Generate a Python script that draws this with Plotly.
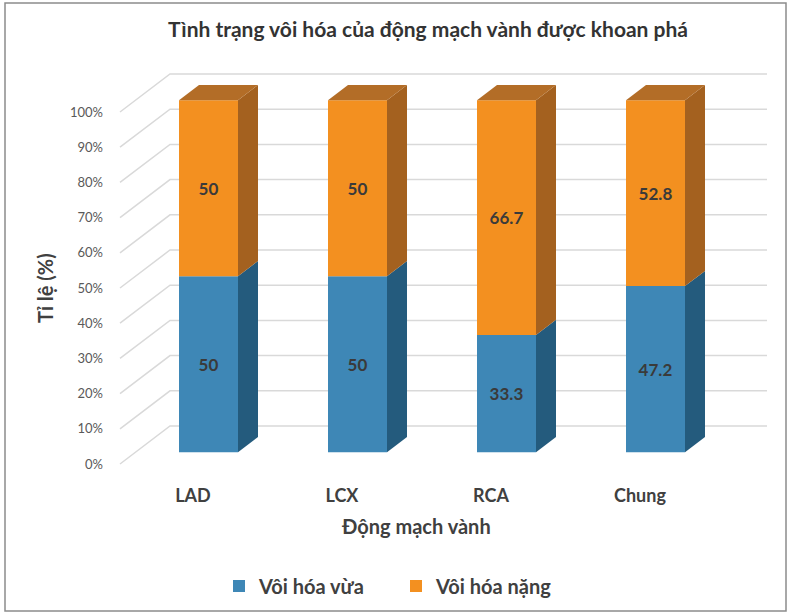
import plotly.graph_objects as go

# ---- data ----
categories = ["LAD", "LCX", "RCA", "Chung"]
voi_hoa_vua = [50, 50, 33.3, 47.2]
voi_hoa_nang = [50, 50, 66.7, 52.8]
series_names = ["Vôi hóa vừa", "Vôi hóa nặng"]
y_ticks = [0, 10, 20, 30, 40, 50, 60, 70, 80, 90, 100]
y_ticklabels = [f"{v}%" for v in y_ticks]

# ---- 3D projection parameters (in data units) ----
PX_X = 149.0          # pixels per category
PX_Y = 3.52           # pixels per percent
DX = 50 / PX_X        # full depth offset x
DY = 38 / PX_Y        # full depth offset y
D_FRONT = 0.31
D_BACK = 0.71
BAR_W = 59 / PX_X
X_WALL_L = (120 - 193) / PX_X
X_WALL_R = (767 - 193) / PX_X

front_colors = ["#3E87B6", "#F39020"]
side_colors = ["#245B7D", "#A4611F"]
top_color = "#B36D27"
grid_color = "#D9D9D9"
font_fam = "Lato"
txt_col = "#404040"

fig = go.Figure()

# gridlines on side wall and back wall (shapes below traces)
shapes = []
for v in y_ticks:
    path = (f"M {X_WALL_L},{v} L {X_WALL_L + DX},{v + DY} "
            f"L {X_WALL_R},{v + DY}")
    shapes.append(dict(type="path", path=path, xref="x", yref="y",
                       line=dict(color=grid_color, width=1.5), layer="below"))

series = [voi_hoa_vua, voi_hoa_nang]
xs_front = [i + D_FRONT * DX for i in range(len(categories))]

# front faces as bars
bottoms = [0.0] * len(categories)
seg_bounds = []
for s, vals in enumerate(series):
    bases = [b + D_FRONT * DY for b in bottoms]
    fig.add_trace(go.Bar(
        x=xs_front, y=vals, base=bases, width=BAR_W,
        name=series_names[s], marker=dict(color=front_colors[s], line=dict(width=0)),
        text=[f"{v:g}" for v in vals], textposition="inside",
        insidetextanchor="middle", textangle=0,
        insidetextfont=dict(family=font_fam, size=17, color="#3A3A3A", weight="bold"),
        hoverinfo="skip",
    ))
    seg_bounds.append([(bottoms[i], bottoms[i] + vals[i]) for i in range(len(vals))])
    bottoms = [bottoms[i] + vals[i] for i in range(len(vals))]

# side faces
ddx = (D_BACK - D_FRONT) * DX
ddy = (D_BACK - D_FRONT) * DY
for s, bounds in enumerate(seg_bounds):
    for i, (b0, b1) in enumerate(bounds):
        xr = xs_front[i] + BAR_W / 2
        y0 = b0 + D_FRONT * DY
        y1 = b1 + D_FRONT * DY
        fig.add_trace(go.Scatter(
            x=[xr, xr + ddx, xr + ddx, xr, xr],
            y=[y0, y0 + ddy, y1 + ddy, y1, y0],
            fill="toself", fillcolor=side_colors[s], mode="lines",
            line=dict(width=0, color=side_colors[s]),
            showlegend=False, hoverinfo="skip"))

# top faces
for i in range(len(categories)):
    xl = xs_front[i] - BAR_W / 2
    xr = xs_front[i] + BAR_W / 2
    yt = bottoms[i] + D_FRONT * DY
    fig.add_trace(go.Scatter(
        x=[xl, xr, xr + ddx, xl + ddx, xl],
        y=[yt, yt, yt + ddy, yt + ddy, yt],
        fill="toself", fillcolor=top_color, mode="lines",
        line=dict(width=0, color=top_color),
        showlegend=False, hoverinfo="skip"))

# frame around the image
shapes.append(dict(type="rect", xref="paper", yref="paper",
                   x0=(5 - 110) / 665, x1=(786 - 110) / 665,
                   y0=(470 - 611) / 410, y1=(470 - 3) / 410,
                   line=dict(color="#8C8C8C", width=1.5), layer="below"))

fig.update_layout(
    width=790, height=615,
    margin=dict(l=110, r=15, t=60, b=145),
    paper_bgcolor="white", plot_bgcolor="white",
    barmode="overlay",
    shapes=shapes,
    font=dict(family=font_fam, color=txt_col),
    title=dict(text="Tình trạng vôi hóa của động mạch vành được khoan phá",
               x=428 / 790, xanchor="center", y=1 - 30 / 615, yanchor="middle",
               yref="container",
               font=dict(family=font_fam, size=21, color="#333333", weight="bold")),
    xaxis=dict(range=[(110 - 193) / PX_X, (775 - 193) / PX_X],
               tickvals=list(range(len(categories))), ticktext=categories,
               showgrid=False, zeroline=False, showline=False, ticks="",
               ticklabelstandoff=13,
               tickfont=dict(family=font_fam, size=18, color=txt_col, weight="bold")),
    yaxis=dict(range=[(464 - 470) / PX_Y, (464 - 60) / PX_Y],
               tickvals=y_ticks, ticktext=y_ticklabels,
               showgrid=False, zeroline=False, showline=False, ticks="",
               ticklabelstandoff=6,
               tickfont=dict(family=font_fam, size=13, color="#595959")),
    legend=dict(orientation="h", xref="container", yref="container",
                x=219 / 790, xanchor="left", y=1 - 586 / 615, yanchor="middle",
                entrywidth=132, entrywidthmode="pixels",
                font=dict(family=font_fam, size=20, color=txt_col, weight="bold")),
    annotations=[
        dict(text="Động mạch vành", xref="paper", yref="paper",
             x=(416 - 110) / 665, y=(470 - 526) / 410, xanchor="center",
             yanchor="middle", showarrow=False,
             font=dict(family=font_fam, size=20, color=txt_col, weight="bold")),
        dict(text="Tỉ lệ (%)", xref="paper", yref="paper",
             x=(45 - 110) / 665, y=(470 - 288) / 410, xanchor="center",
             yanchor="middle", showarrow=False, textangle=-90,
             font=dict(family=font_fam, size=20, color=txt_col, weight="bold")),
    ],
)

fig.write_html("out.html")
